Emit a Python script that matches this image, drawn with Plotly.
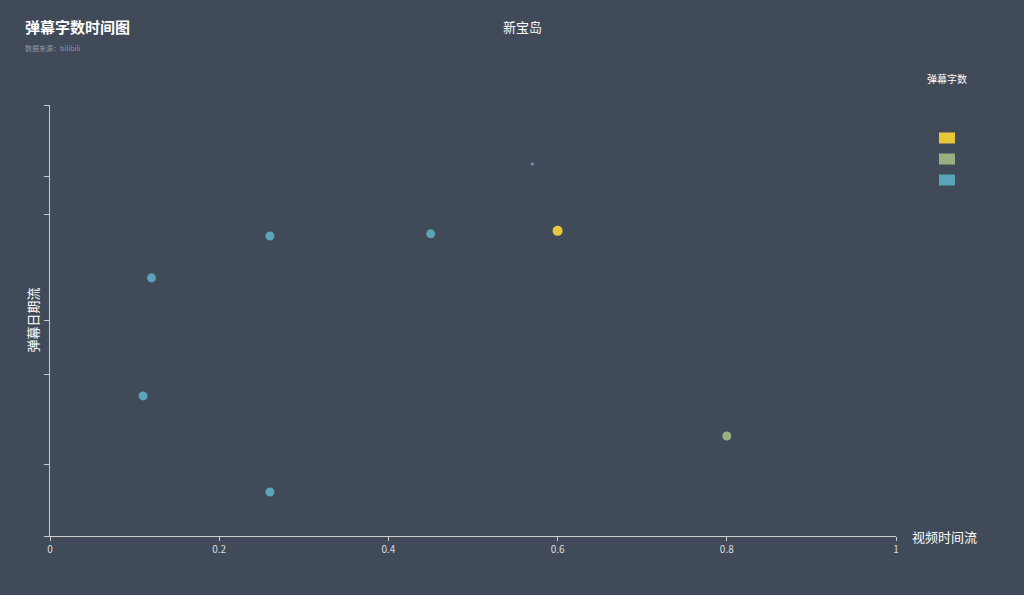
import plotly.graph_objects as go

# 视频时间流 (0-1) / 弹幕日期流 (relative, 0-100) / 弹幕字数 group
video_time = [0.12, 0.26, 0.45, 0.57, 0.11, 0.26, 0.60, 0.80]
danmaku_date = [59.9, 69.6, 70.1, 86.3, 32.5, 10.2, 70.8, 23.2]
marker_size = [9, 9, 9, 3, 9, 9, 10, 9]
group = ["low", "low", "low", "low", "low", "low", "high", "mid"]

groups = ["high", "mid", "low"]
group_colors = {"high": "#e8c83a", "mid": "#9caf80", "low": "#5aa3b9"}

y_ticks = [0, 16.7, 37.4, 50.1, 74.5, 83.3, 100]
x_ticks = [0, 0.2, 0.4, 0.6, 0.8, 1]
x_labels = ["0", "0.2", "0.4", "0.6", "0.8", "1"]

bg = "#404a59"
axis_color = "#cccccc"
font = "Noto Sans CJK SC"

fig = go.Figure()

for g in groups:
    idx = [i for i, v in enumerate(group) if v == g]
    fig.add_trace(
        go.Scatter(
            x=[video_time[i] for i in idx],
            y=[danmaku_date[i] for i in idx],
            mode="markers",
            name=g,
            marker=dict(
                color=group_colors[g],
                size=[marker_size[i] for i in idx],
                opacity=1,
                line=dict(width=0),
            ),
            showlegend=False,
        )
    )

fig.update_layout(
    width=1024,
    height=595,
    paper_bgcolor=bg,
    plot_bgcolor=bg,
    margin=dict(l=50, r=128, t=105, b=59),
    font=dict(family=font, color="#dddddd", size=10),
    xaxis=dict(
        range=[0, 1],
        tickvals=x_ticks,
        ticktext=x_labels,
        showgrid=False,
        zeroline=False,
        showline=True,
        linecolor=axis_color,
        linewidth=1,
        ticks="outside",
        ticklen=4,
        tickcolor=axis_color,
        tickfont=dict(size=10, color="#dddddd"),
    ),
    yaxis=dict(
        range=[0, 100],
        tickvals=y_ticks,
        showticklabels=False,
        showgrid=False,
        zeroline=False,
        showline=True,
        linecolor=axis_color,
        linewidth=1,
        ticks="outside",
        ticklen=5,
        tickcolor=axis_color,
    ),
)

# titles
fig.add_annotation(
    text="<b>弹幕字数时间图</b>", xref="paper", yref="paper",
    x=-27 / 846, y=1 + 78 / 431, xanchor="left", yanchor="middle",
    showarrow=False, font=dict(size=15, color="#ffffff", family=font),
)
fig.add_annotation(
    text="数据来源：bilibili", xref="paper", yref="paper",
    x=-27 / 846, y=1 + 57 / 431, xanchor="left", yanchor="middle",
    showarrow=False, font=dict(size=7, color="#999999", family=font),
)
fig.add_annotation(
    text="新宝岛", xref="paper", yref="paper",
    x=472 / 846, y=1 + 78 / 431, xanchor="center", yanchor="middle",
    showarrow=False, font=dict(size=13, color="#ffffff", family=font),
)
fig.add_annotation(
    text="视频时间流", xref="paper", yref="paper",
    x=1 + 14 / 846, y=0, xanchor="left", yanchor="middle",
    showarrow=False, font=dict(size=13, color="#ffffff", family=font),
)
fig.add_annotation(
    text="弹幕日期流", xref="paper", yref="paper",
    x=-18 / 846, y=0.5, xanchor="center", yanchor="middle", textangle=-90,
    showarrow=False, font=dict(size=13, color="#ffffff", family=font),
)

# visual legend for 弹幕字数
fig.add_annotation(
    text="弹幕字数", xref="paper", yref="paper",
    x=(947 - 50) / 846, y=(536 - 78) / 431, xanchor="center", yanchor="middle",
    showarrow=False, font=dict(size=10, color="#ffffff", family=font),
)
for k, g in enumerate(groups):
    cy = 138 + k * 21
    fig.add_shape(
        type="rect", xref="paper", yref="paper",
        x0=(939 - 50) / 846, x1=(955 - 50) / 846,
        y0=(536 - cy - 5.5) / 431, y1=(536 - cy + 5.5) / 431,
        fillcolor=group_colors[g], line=dict(width=0),
    )

fig.write_html(
    "out.html",
    config={"displayModeBar": False},
    post_script="document.body.style.margin='0';",
)
